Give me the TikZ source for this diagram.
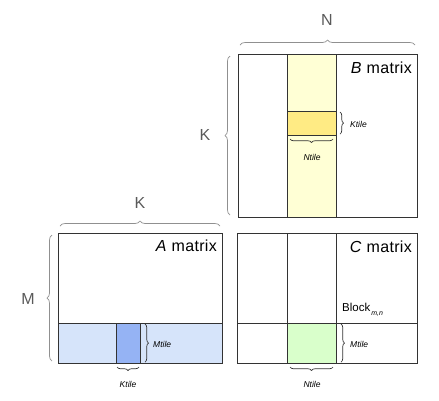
\documentclass[tikz,border=0pt]{standalone}
\usepackage{fontspec}
\setmainfont{Liberation Sans}
\usetikzlibrary{decorations.pathreplacing}
\definecolor{lyel}{HTML}{FFFFD5}
\definecolor{dyel}{HTML}{FFEB84}
\definecolor{lblue}{HTML}{D6E4FA}
\definecolor{dblue}{HTML}{95B3F4}
\definecolor{lgreen}{HTML}{D9FFCB}
\definecolor{lbl}{HTML}{5A5A5A}
\definecolor{brc}{HTML}{909090}
\begin{document}
\begin{tikzpicture}[x=1pt,y=-1pt,
 box/.style={draw=black!80, line width=0.8pt},
 br/.style={draw=brc, line width=0.7pt, decorate, decoration={brace, amplitude=5pt}},
 tbr/.style={draw=black!80, line width=0.7pt, decorate, decoration={brace, amplitude=3.5pt}},
 big/.style={font=\fontsize{16}{18}\selectfont, text=lbl, inner sep=0},
 ttl/.style={font=\fontsize{16}{18}\selectfont\addfontfeature{LetterSpace=2}, anchor=base east, inner sep=0},
 small/.style={font=\fontsize{8.5}{10}\itshape\selectfont, inner sep=0}]
\useasboundingbox[fill=white] (0,0) rectangle (439,400);
% ---------- B matrix ----------
\fill[lyel] (287,54) rectangle (336,217);
\fill[dyel] (287,111) rectangle (336,135);
\draw[box] (238,54) rectangle (417,217);
\draw[box] (287,54) -- (287,217) (336,54) -- (336,217)
           (287,111) -- (336,111) (287,135) -- (336,135);
\node[ttl] (bt) at (412,73) {\textit{B} matrix};
\draw[br] (240,45) -- (415,45);
\node[big] (N) at (327,20) {N};
\draw[br] (230,215) -- (230,56);
\node[big] (K1) at (205,135) {K};
\draw[tbr] (340,112) -- (340,134);
\node[small, anchor=west] (kt1) at (350,124) {Ktile};
\draw[tbr] (333,139) -- (290,139);
\node[small] (nt1) at (312,157) {Ntile};
% ---------- A matrix ----------
\fill[lblue] (58,323) rectangle (222,363);
\fill[dblue] (116,323) rectangle (140,363);
\draw[box] (58,233) rectangle (222,363);
\draw[box] (58,323) -- (222,323) (116,323) -- (116,363) (140,323) -- (140,363);
\node[ttl] (at) at (217,251) {\textit{A} matrix};
\draw[br] (60,226) -- (220,226);
\node[big] (K2) at (140,203) {K};
\draw[br] (52,361) -- (52,235);
\node[big] (M) at (28,299) {M};
\draw[tbr] (145,324) -- (145,362);
\node[small, anchor=west] (mt1) at (153,344) {Mtile};
\draw[tbr] (139,367) -- (117,367);
\node[small] (kt2) at (128,384) {Ktile};
% ---------- C matrix ----------
\fill[lgreen] (287,323) rectangle (336,363);
\draw[box] (237,233) rectangle (417,363);
\draw[box] (287,233) -- (287,363) (336,233) -- (336,363) (237,323) -- (417,323);
\node[ttl] (ct) at (412,252) {\textit{C} matrix};
\node[font=\fontsize{11.5}{13}\selectfont, anchor=base west, inner sep=0] (blk) at (342,311)
  {Block\kern1pt\raisebox{-4pt}{\fontsize{7}{8}\itshape\selectfont m,n}};
\draw[tbr] (341,324) -- (341,362);
\node[small, anchor=west] (mt2) at (350,344) {Mtile};
\draw[tbr] (333,367) -- (290,367);
\node[small] (nt2) at (312,384) {Ntile};
\end{tikzpicture}
\end{document}
